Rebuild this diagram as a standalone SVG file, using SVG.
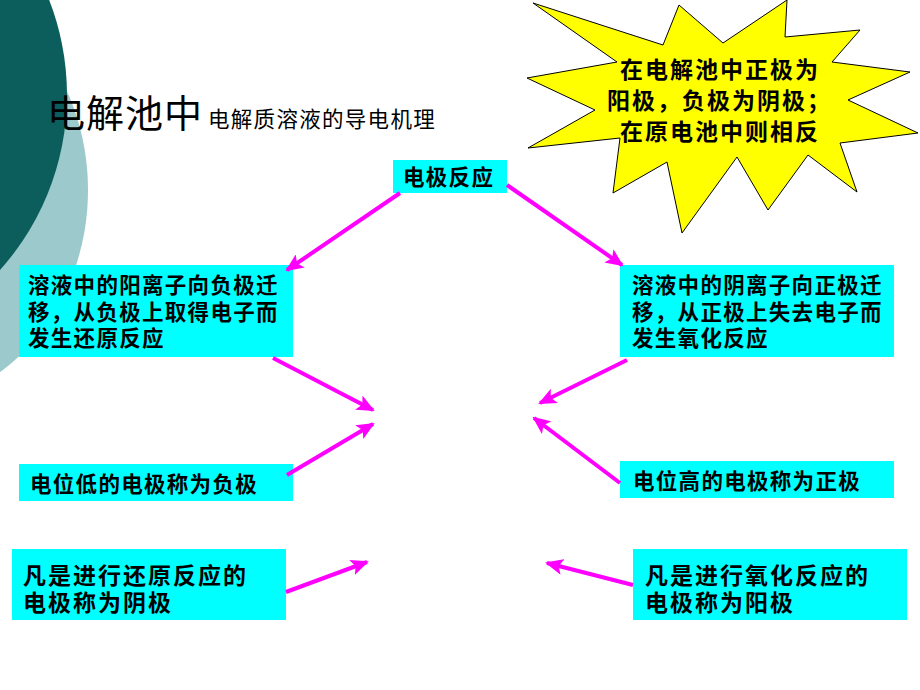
<svg xmlns="http://www.w3.org/2000/svg" width="920" height="690" viewBox="0 0 920 690">
<defs>
<style>
.box{fill:#00FFFF;}
.t{font-family:"Noto Sans CJK SC","Liberation Sans",sans-serif;fill:#000;font-weight:bold;}
.s20{font-size:21.5px;letter-spacing:1.3px;}
.s22{font-size:23px;letter-spacing:2px;}
.conn line{stroke:#FF00FF;stroke-width:4;marker-end:url(#ah);}
</style>
<marker id="ah" markerUnits="userSpaceOnUse" markerWidth="18" markerHeight="16" viewBox="0 0 18 16" refX="16" refY="8" orient="auto">
<path d="M0,0 L18,8 L0,16 L4,8 Z" fill="#FF00FF"/>
</marker>
</defs>
<rect width="920" height="690" fill="#FFFFFF"/>
<g id="decor">
<ellipse cx="-100" cy="190" rx="188" ry="215" fill="#9CC9CC"/>
<circle cx="-195" cy="95" r="262" fill="#0B5E5B"/>
</g>
<g id="title">
<text class="t" x="47" y="127" style="font-size:38px;font-weight:normal;letter-spacing:1px">电解池中</text>
<text class="t" x="208" y="127" style="font-size:21.5px;font-weight:normal;letter-spacing:1.3px">电解质溶液的导电机理</text>
</g>
<g id="star">
<polygon points="533,3 663,45 679,5 723,43 787,0 785,37 860,30 832,62 910,72 848,100 918,133 840,143 857,192 808,155 768,210 737,157 682,233 667,162 613,193 620,138 528,148 595,110 527,78 617,62" fill="#FFFF00" stroke="#000" stroke-width="1"/>
<text class="t s22" x="620" y="78">在电解池中正极为</text>
<text class="t s22" x="607" y="109">阳极，负极为阴极；</text>
<text class="t s22" x="620" y="140">在原电池中则相反</text>
</g>
<g id="n0">
<rect class="box" x="393" y="160" width="114" height="33"/>
<text class="t s20" x="403" y="185">电极反应</text>
</g>
<g id="n1">
<rect class="box" x="19" y="265" width="274" height="92"/>
<text class="t s20" x="28" y="293">溶液中的阳离子向负极迁</text>
<text class="t s20" x="28" y="320">移，从负极上取得电子而</text>
<text class="t s20" x="28" y="346">发生还原反应</text>
</g>
<g id="n2">
<rect class="box" x="620" y="265" width="274" height="92"/>
<text class="t s20" x="632" y="293">溶液中的阴离子向正极迁</text>
<text class="t s20" x="632" y="320">移，从正极上失去电子而</text>
<text class="t s20" x="632" y="346">发生氧化反应</text>
</g>
<g id="n3">
<rect class="box" x="19" y="464" width="274" height="37"/>
<text class="t s20" x="30" y="492">电位低的电极称为负极</text>
</g>
<g id="n4">
<rect class="box" x="620" y="461" width="274" height="37"/>
<text class="t s20" x="633" y="489">电位高的电极称为正极</text>
</g>
<g id="n5">
<rect class="box" x="12" y="549" width="274" height="71"/>
<text class="t s22" x="23" y="584">凡是进行还原反应的</text>
<text class="t s22" x="23" y="611">电极称为阴极</text>
</g>
<g id="n6">
<rect class="box" x="633" y="549" width="274" height="71"/>
<text class="t s22" x="645" y="584">凡是进行氧化反应的</text>
<text class="t s22" x="645" y="611">电极称为阳极</text>
</g>
<g id="connectors" class="conn">
<line x1="400" y1="193" x2="287" y2="270"/>
<line x1="507" y1="185" x2="622" y2="265"/>
<line x1="273" y1="358" x2="373" y2="410"/>
<line x1="287" y1="475" x2="373" y2="424"/>
<line x1="627" y1="360" x2="540" y2="403"/>
<line x1="620" y1="483" x2="534" y2="418"/>
<line x1="286" y1="592" x2="367" y2="562"/>
<line x1="633" y1="585" x2="547" y2="563"/>
</g>
</svg>
